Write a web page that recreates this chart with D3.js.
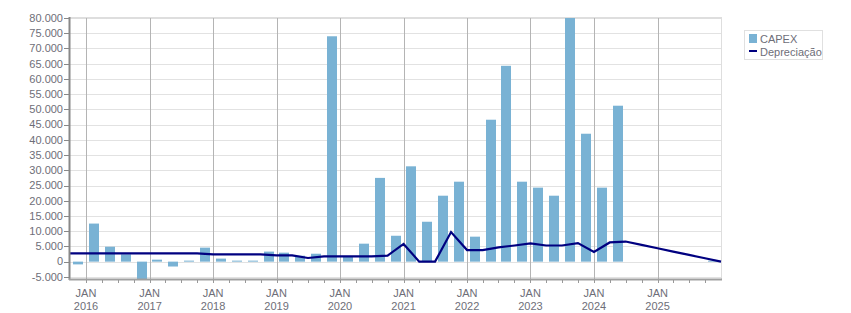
<!DOCTYPE html>
<html>
<head>
<meta charset="utf-8">
<script src="https://cdn.jsdelivr.net/npm/d3@7"></script>
<style>
	body { margin: 0; background: #fff; }
	svg { display: block; font-family: "Liberation Sans", Arial, sans-serif; }
	.tick-label { fill: #6e6e78; font-size: 11px; }
	.legend-label { fill: #6e6e78; font-size: 11px; }
</style>
</head>
<body>
<script>

// quarter starts (line points sit on these, bars fill the quarter that starts here)
var quarterStarts = [
	'2015-10', '2016-01', '2016-04', '2016-07', '2016-10', '2017-01', '2017-04', '2017-07',
	'2017-10', '2018-01', '2018-04', '2018-07', '2018-10', '2019-01', '2019-04', '2019-07',
	'2019-10', '2020-01', '2020-04', '2020-07', '2020-10', '2021-01', '2021-04', '2021-07',
	'2021-10', '2022-01', '2022-04', '2022-07', '2022-10', '2023-01', '2023-04', '2023-07',
	'2023-10', '2024-01', '2024-04', '2024-07', '2024-10', '2025-01', '2025-04', '2025-07',
	'2025-10', '2026-01'
];

// CAPEX per quarter (one less than quarterStarts)
var capex = [
	-900, 12500, 4900, 2400, -6500, 650, -1600, 330,
	4600, 1000, 330, 330, 3300, 2950, 1950, 2600,
	74000, 1600, 5900, 27500, 8500, 31300, 13100, 21650,
	26250, 8200, 46600, 64300, 26250, 24300, 21650, 85000,
	42000, 24300, 51200, null, null, null, null, null,
	300
];

// Depreciação at each quarter start
var depreciacao = [
	2700, 2700, 2700, 2700, 2700, 2700, 2700, 2700,
	2700, 2400, 2400, 2400, 2400, 2050, 2050, 1200,
	1700, 1700, 1700, 1700, 2000, 5800, 0, 0,
	9700, 3800, 3800, 4700, 5300, 6000, 5300, 5300,
	6100, 3200, 6300, 6600, 5500, 4400, 3300, 2200,
	1100, 0
];

var yTicks = [-5000, 0, 5000, 10000, 15000, 20000, 25000, 30000, 35000, 40000,
	45000, 50000, 55000, 60000, 65000, 70000, 75000, 80000];
var gridYears = ['2016', '2017', '2018', '2019', '2020', '2021', '2022', '2023', '2024', '2025'];

var width = 851, height = 313;
var plotLeft = 70, plotRight = 721, plotTop = 18, plotBottom = 279;
var barColor = '#79b2d4', lineColor = '#000080';

var parseMonth = d3.timeParse('%Y-%m');
var dates = quarterStarts.map(parseMonth);

var locale = d3.formatLocale({ decimal: ',', thousands: '.', grouping: [3], currency: ['', ''], minus: '-' });
var fmt = locale.format(',.0f');

var svg = d3.select('body').append('svg')
	.attr('width', width)
	.attr('height', height);

var x = d3.scaleTime()
	.domain([dates[0], dates[dates.length - 1]])
	.range([plotLeft, plotRight]);

var y = d3.scaleLinear()
	.domain([-5700, 80000])
	.range([plotBottom, plotTop]);

svg.append('defs').append('clipPath')
	.attr('id', 'plotClip')
	.append('rect')
	.attr('x', plotLeft).attr('y', plotTop)
	.attr('width', plotRight - plotLeft).attr('height', plotBottom - plotTop);

// horizontal grid
svg.append('g').selectAll('line').data(yTicks).enter().append('line')
	.attr('x1', plotLeft).attr('x2', plotRight)
	.attr('y1', function (d) { return Math.round(y(d)) + 0.5; })
	.attr('y2', function (d) { return Math.round(y(d)) + 0.5; })
	.attr('stroke', '#e2e2e2')
	.attr('stroke-width', 1);

// plot border top / right
svg.append('line')
	.attr('x1', plotLeft).attr('x2', plotRight + 1)
	.attr('y1', plotTop).attr('y2', plotTop)
	.attr('stroke', '#dedede').attr('stroke-width', 2);
svg.append('line')
	.attr('x1', plotRight + 0.5).attr('x2', plotRight + 0.5)
	.attr('y1', plotTop).attr('y2', plotBottom)
	.attr('stroke', '#dedede').attr('stroke-width', 1);

// vertical grid at each January
var yearDates = gridYears.map(function (yr) { return parseMonth(yr + '-01'); });
svg.append('g').selectAll('line').data(yearDates).enter().append('line')
	.attr('x1', function (d) { return Math.round(x(d)) + 0.5; })
	.attr('x2', function (d) { return Math.round(x(d)) + 0.5; })
	.attr('y1', plotTop).attr('y2', plotBottom + 4)
	.attr('stroke', '#b4b4b4');

// bars
var barData = capex.map(function (v, i) {
	return { start: dates[i], end: dates[i + 1], value: v };
}).filter(function (d) { return d.value !== null; });

svg.append('g').attr('clip-path', 'url(#plotClip)')
	.selectAll('rect').data(barData).enter().append('rect')
	.attr('x', function (d) { return Math.round((x(d.start) + x(d.end)) / 2 - 5); })
	.attr('width', 10)
	.attr('y', function (d) { return Math.min(y(d.value), y(0)); })
	.attr('height', function (d) { return Math.abs(y(d.value) - y(0)); })
	.attr('fill', barColor);

// depreciation line
var line = d3.line()
	.x(function (d, i) { return x(dates[i]); })
	.y(function (d) { return y(d); });

svg.append('path')
	.datum(depreciacao)
	.attr('d', line)
	.attr('fill', 'none')
	.attr('stroke', lineColor)
	.attr('stroke-width', 2.2)
	.attr('stroke-linejoin', 'miter');

// y axis
var yAxisEl = svg.append('g').attr('transform', 'translate(' + plotLeft + ',0)');
yAxisEl.append('line')
	.attr('x1', -0.5).attr('x2', -0.5)
	.attr('y1', plotTop - 1).attr('y2', plotBottom + 1)
	.attr('stroke', '#888').attr('stroke-width', 2);
yAxisEl.selectAll('.ytick').data(yTicks).enter().append('line')
	.attr('x1', -6).attr('x2', -1)
	.attr('y1', function (d) { return Math.round(y(d)) + 0.5; })
	.attr('y2', function (d) { return Math.round(y(d)) + 0.5; })
	.attr('stroke', '#888');
yAxisEl.selectAll('text').data(yTicks).enter().append('text')
	.attr('class', 'tick-label')
	.attr('x', -7)
	.attr('y', function (d) { return y(d); })
	.attr('dy', '0.35em')
	.attr('text-anchor', 'end')
	.text(function (d) { return fmt(d); });

// x axis
var xAxisEl = svg.append('g');
xAxisEl.append('line')
	.attr('x1', plotLeft - 1).attr('x2', plotRight + 1)
	.attr('y1', plotBottom + 0.5).attr('y2', plotBottom + 0.5)
	.attr('stroke', '#a0a0a0').attr('stroke-width', 2);
xAxisEl.selectAll('.xtick').data(dates.slice(1, -1)).enter().append('line')
	.attr('x1', function (d) { return Math.round(x(d)) + 0.5; })
	.attr('x2', function (d) { return Math.round(x(d)) + 0.5; })
	.attr('y1', plotBottom + 1).attr('y2', plotBottom + 4)
	.attr('stroke', '#999');
var xLabels = xAxisEl.selectAll('.xlabel').data(yearDates).enter().append('text')
	.attr('class', 'tick-label')
	.attr('text-anchor', 'middle')
	.attr('transform', function (d) { return 'translate(' + x(d) + ',0)'; });
xLabels.append('tspan').attr('x', 0).attr('y', 297).text('JAN');
xLabels.append('tspan').attr('x', 0).attr('y', 310).text(function (d) { return d3.timeFormat('%Y')(d); });

// legend
var legend = svg.append('g').attr('transform', 'translate(744,30)');
legend.append('rect')
	.attr('x', 0.5).attr('y', 0.5).attr('width', 78).attr('height', 29)
	.attr('fill', '#fff').attr('stroke', '#e0e0e0');
legend.append('rect')
	.attr('x', 5).attr('y', 4).attr('width', 8).attr('height', 9)
	.attr('fill', barColor);
legend.append('text').attr('class', 'legend-label').attr('x', 16).attr('y', 13).text('CAPEX');
legend.append('rect')
	.attr('x', 5).attr('y', 20).attr('width', 8).attr('height', 2)
	.attr('fill', lineColor);
legend.append('text').attr('class', 'legend-label').attr('x', 16).attr('y', 26).text('Depreciação');

</script>
</body>
</html>
